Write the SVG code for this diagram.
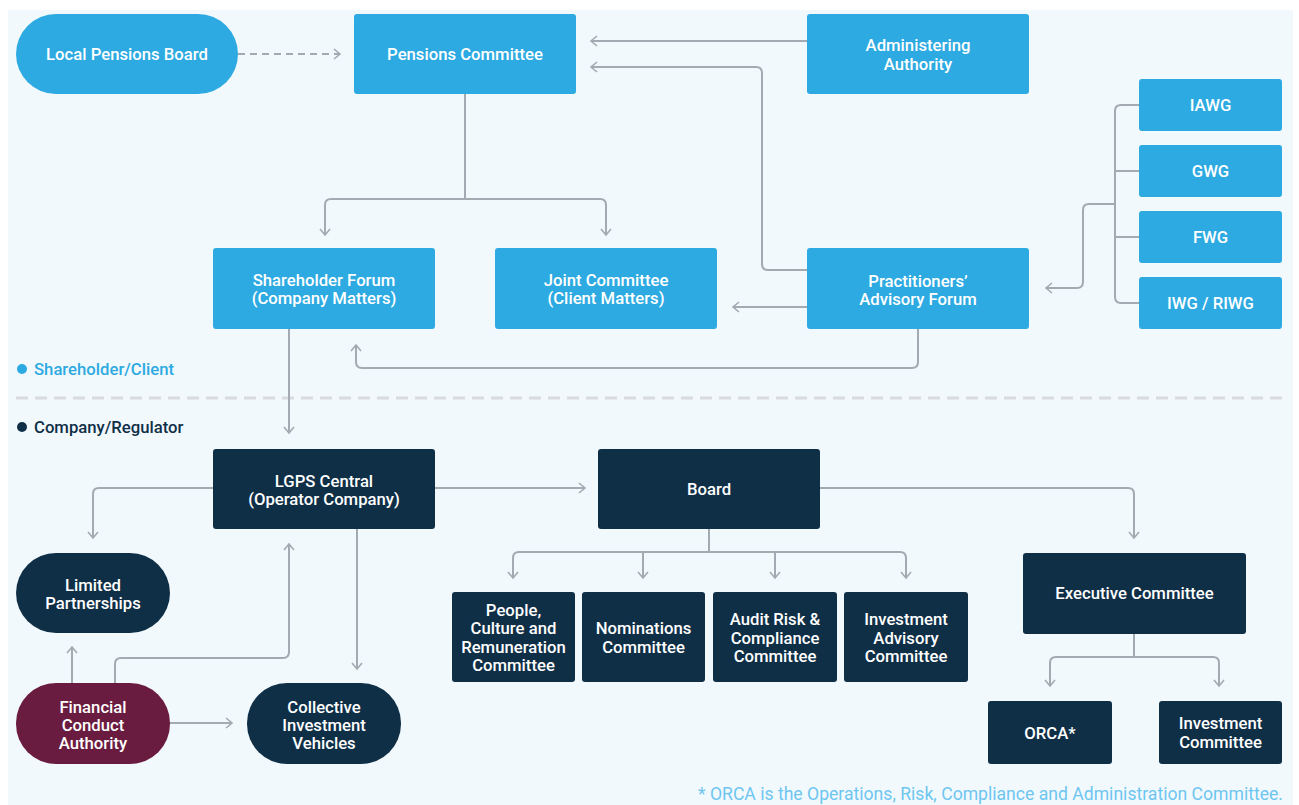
<svg xmlns="http://www.w3.org/2000/svg" width="1299" height="805" viewBox="0 0 1299 805">
<defs>
<style>
.lb{fill:#2DAAE1}
.nv{fill:#0F2F47}
.mr{fill:#6A1C40}
text{font-family:Roboto,"Liberation Sans",Arial,sans-serif;font-weight:500;font-size:16.7px}
.w{fill:#FFFFFF;text-anchor:middle}
.cn path{fill:none;stroke:#A3AAB2;stroke-width:2;marker-end:url(#ah)}
.cn path.nm{marker-end:none}
</style>
<marker id="ah" viewBox="-8 -6 10 12" markerWidth="10" markerHeight="12" refX="0" refY="0" orient="auto" markerUnits="userSpaceOnUse">
<path d="M-6,-5 L0,0 L-6,5" fill="none" stroke="#A3AAB2" stroke-width="1.6"/>
</marker>
</defs>
<rect x="0" y="0" width="1299" height="805" fill="#FFFFFF"/>
<rect x="8" y="10" width="1285" height="795" fill="#F2F9FD"/>
<line x1="16" y1="398" x2="1283" y2="398" stroke="#D9DCDF" stroke-width="3" stroke-dasharray="12 7"/>
<g id="legend">
<circle cx="22" cy="369" r="5" class="lb"/>
<text x="34" y="374.8" fill="#2DAAE1">Shareholder/Client</text>
<circle cx="22" cy="427" r="5" class="nv"/>
<text x="34" y="432.8" fill="#0F2F47">Company/Regulator</text>
</g>
<g class="cn" id="connectors">
<path d="M238 54 H340" stroke-dasharray="7 5"/>
<path d="M807 41 H591"/>
<path d="M807 270 H768 Q762 270 762 264 V73 Q762 67 756 67 H591"/>
<path class="nm" d="M465 94 V199"/>
<path d="M465 199 H331 Q325 199 325 205 V235"/>
<path d="M465 199 H600 Q606 199 606 205 V235"/>
<path d="M807 307 H733"/>
<path d="M918 329 V362 Q918 368 912 368 H362 Q356 368 356 362 V345"/>
<path class="nm" d="M1139 105 H1121 Q1115 105 1115 111 V297 Q1115 303 1121 303 H1139"/>
<path class="nm" d="M1115 171 H1139"/>
<path class="nm" d="M1115 237 H1139"/>
<path d="M1115 204 H1089 Q1083 204 1083 210 V282 Q1083 288 1077 288 H1046"/>
<path d="M289 329 V433"/>
<path d="M213 488 H99 Q93 488 93 494 V538"/>
<path d="M72 683 V647"/>
<path d="M115 683 V664 Q115 658 121 658 H283 Q289 658 289 652 V544"/>
<path d="M357 529 V669"/>
<path d="M170 723 H232"/>
<path d="M435 488 H585"/>
<path class="nm" d="M709 529 V552"/>
<path d="M709 552 H519 Q513 552 513 558 V578"/>
<path d="M709 552 H900 Q906 552 906 558 V578"/>
<path d="M643 552 V578"/>
<path d="M775 552 V578"/>
<path d="M820 488 H1128 Q1134 488 1134 494 V538"/>
<path class="nm" d="M1134 634 V657"/>
<path d="M1134 657 H1056 Q1050 657 1050 663 V686"/>
<path d="M1134 657 H1213 Q1219 657 1219 663 V686"/>
</g>
<g id="local-pensions-board">
<rect x="16" y="14" width="222" height="80" rx="40" class="lb"/>
<text x="127" y="59.8" class="w">Local Pensions Board</text>
</g>
<g id="pensions-committee">
<rect x="354" y="14" width="222" height="80" rx="3" class="lb"/>
<text x="465" y="59.8" class="w">Pensions Committee</text>
</g>
<g id="administering-authority">
<rect x="807" y="14" width="222" height="80" rx="3" class="lb"/>
<text x="918" y="50.8" class="w">Administering</text>
<text x="918" y="69.8" class="w">Authority</text>
</g>
<g id="iawg">
<rect x="1139" y="79" width="143" height="52" rx="3" class="lb"/>
<text x="1210.5" y="110.8" class="w">IAWG</text>
</g>
<g id="gwg">
<rect x="1139" y="145" width="143" height="52" rx="3" class="lb"/>
<text x="1210.5" y="176.8" class="w">GWG</text>
</g>
<g id="fwg">
<rect x="1139" y="211" width="143" height="52" rx="3" class="lb"/>
<text x="1210.5" y="242.8" class="w">FWG</text>
</g>
<g id="iwg-riwg">
<rect x="1139" y="277" width="143" height="52" rx="3" class="lb"/>
<text x="1210.5" y="308.8" class="w">IWG / RIWG</text>
</g>
<g id="shareholder-forum">
<rect x="213" y="248" width="222" height="81" rx="3" class="lb"/>
<text x="324" y="285.8" class="w">Shareholder Forum</text>
<text x="324" y="303.8" class="w">(Company Matters)</text>
</g>
<g id="joint-committee">
<rect x="495" y="248" width="222" height="81" rx="3" class="lb"/>
<text x="606" y="285.8" class="w">Joint Committee</text>
<text x="606" y="303.8" class="w">(Client Matters)</text>
</g>
<g id="practitioners-advisory-forum">
<rect x="807" y="248" width="222" height="81" rx="3" class="lb"/>
<text x="918" y="286.8" class="w">Practitioners’</text>
<text x="918" y="304.8" class="w">Advisory Forum</text>
</g>
<g id="lgps-central">
<rect x="213" y="449" width="222" height="80" rx="3" class="nv"/>
<text x="324" y="486.8" class="w">LGPS Central</text>
<text x="324" y="504.8" class="w">(Operator Company)</text>
</g>
<g id="board">
<rect x="598" y="449" width="222" height="80" rx="3" class="nv"/>
<text x="709" y="494.8" class="w">Board</text>
</g>
<g id="limited-partnerships">
<rect x="16" y="553" width="154" height="80" rx="40" class="nv"/>
<text x="93" y="590.8" class="w">Limited</text>
<text x="93" y="608.8" class="w">Partnerships</text>
</g>
<g id="financial-conduct-authority">
<rect x="16" y="683" width="154" height="81" rx="40" class="mr"/>
<text x="93" y="712.8" class="w">Financial</text>
<text x="93" y="730.8" class="w">Conduct</text>
<text x="93" y="748.8" class="w">Authority</text>
</g>
<g id="collective-investment-vehicles">
<rect x="247" y="683" width="154" height="81" rx="40" class="nv"/>
<text x="324" y="712.8" class="w">Collective</text>
<text x="324" y="730.8" class="w">Investment</text>
<text x="324" y="748.8" class="w">Vehicles</text>
</g>
<g id="people-culture-remuneration">
<rect x="452" y="592" width="123" height="90" rx="3" class="nv"/>
<text x="513.5" y="615.8" class="w">People,</text>
<text x="513.5" y="634.3" class="w">Culture and</text>
<text x="513.5" y="652.8" class="w">Remuneration</text>
<text x="513.5" y="671.3" class="w">Committee</text>
</g>
<g id="nominations-committee">
<rect x="582" y="592" width="123" height="90" rx="3" class="nv"/>
<text x="643.5" y="634.3" class="w">Nominations</text>
<text x="643.5" y="652.8" class="w">Committee</text>
</g>
<g id="audit-risk-compliance">
<rect x="713" y="592" width="124" height="90" rx="3" class="nv"/>
<text x="775" y="625.3" class="w">Audit Risk &amp;</text>
<text x="775" y="643.8" class="w">Compliance</text>
<text x="775" y="662.3" class="w">Committee</text>
</g>
<g id="investment-advisory-committee">
<rect x="844" y="592" width="124" height="90" rx="3" class="nv"/>
<text x="906" y="625.3" class="w">Investment</text>
<text x="906" y="643.8" class="w">Advisory</text>
<text x="906" y="662.3" class="w">Committee</text>
</g>
<g id="executive-committee">
<rect x="1023" y="553" width="223" height="81" rx="3" class="nv"/>
<text x="1134.5" y="598.8" class="w">Executive Committee</text>
</g>
<g id="orca">
<rect x="988" y="701" width="124" height="63" rx="3" class="nv"/>
<text x="1050" y="738.8" class="w">ORCA*</text>
</g>
<g id="investment-committee">
<rect x="1159" y="701" width="123" height="63" rx="3" class="nv"/>
<text x="1220.5" y="728.8" class="w">Investment</text>
<text x="1220.5" y="747.8" class="w">Committee</text>
</g>
<text x="1283" y="799.5" fill="#6EC6F0" text-anchor="end" style="font-weight:400;font-size:17.6px">* ORCA is the Operations, Risk, Compliance and Administration Committee.</text>
</svg>
